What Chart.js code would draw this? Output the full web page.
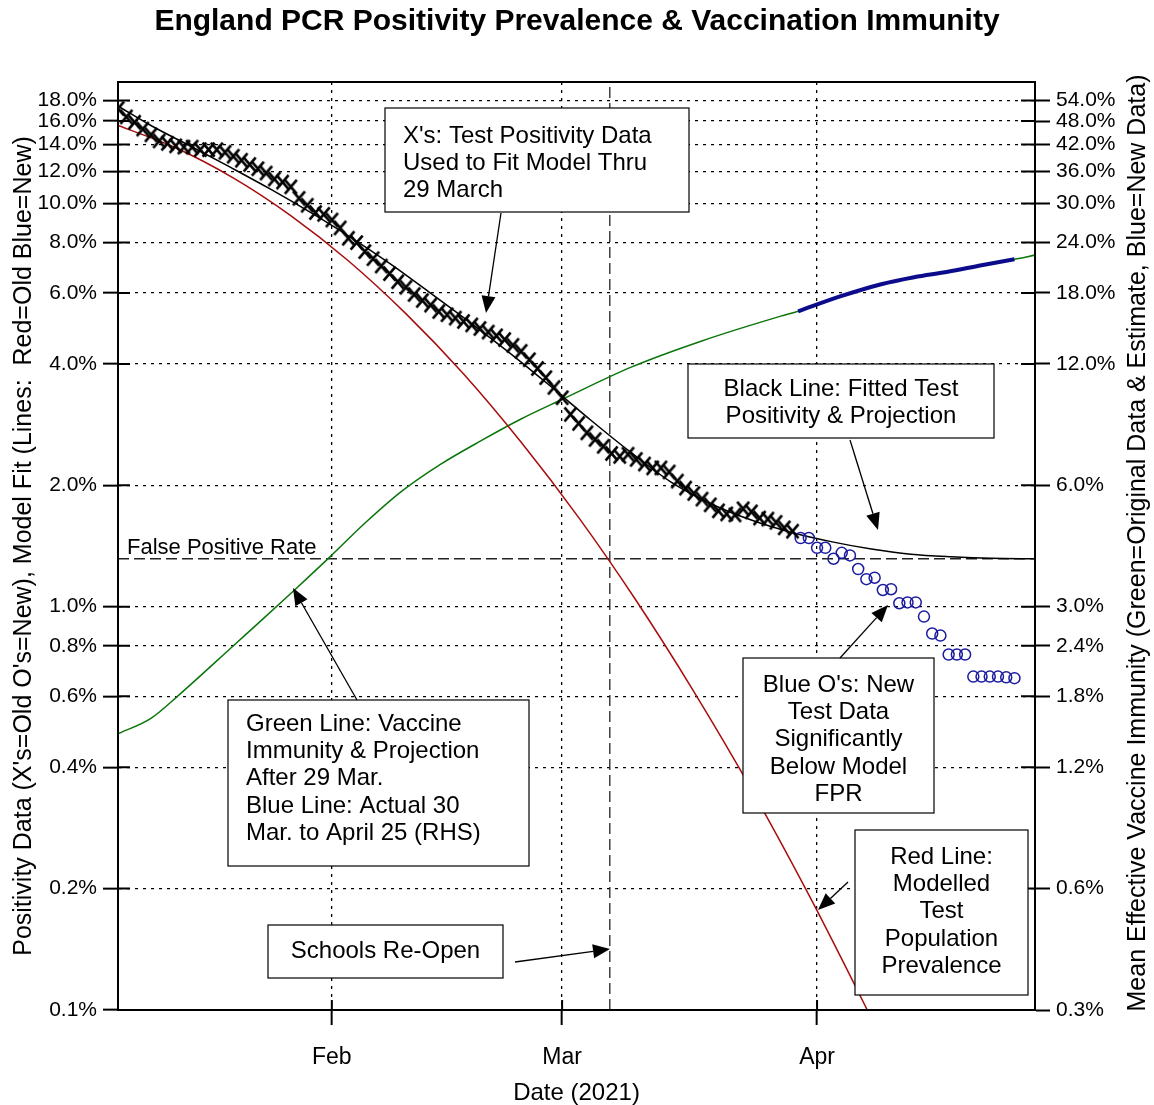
<!DOCTYPE html>
<html lang="en">
<head>
<meta charset="UTF-8">
<title>England PCR Positivity Prevalence &amp; Vaccination Immunity</title>
<script src="https://cdn.jsdelivr.net/npm/chart.js"></script>
<style>
  html, body { margin: 0; padding: 0; background: #fff; }
</style>
</head>
<body>
<canvas id="chart" width="1154" height="1105"></canvas>
<script>
// x values are days counted from 1 Jan 2021 (= day 0)
const dayMin = 5;
const dayMax = 116.5;
const monthDays = [31, 59, 90];
const monthLabels = ['Feb', 'Mar', 'Apr'];

// left axis (positivity) and right axis (immunity = 3x left)
const leftTicks = [0.1, 0.2, 0.4, 0.6, 0.8, 1, 2, 4, 6, 8, 10, 12, 14, 16, 18];
const rightTicks = [0.3, 0.6, 1.2, 1.8, 2.4, 3, 6, 12, 18, 24, 30, 36, 42, 48, 54];

// X's: daily test positivity used for the fit, 6 Jan - 29 Mar
const oldFirstDay = 5;
const oldPositivity = [
  17.2, 16.4, 15.9, 15.3, 14.8, 14.3, 14.1, 13.9, 13.8, 13.8,
  13.6, 13.6, 13.6, 13.4, 13.1, 12.8, 12.5, 12.2, 11.9, 11.5,
  11.3, 11.0, 10.3, 9.9, 9.5, 9.4, 9.1, 8.7, 8.2, 8.0,
  7.6, 7.3, 7.0, 6.7, 6.4, 6.2, 5.95, 5.75, 5.6, 5.4,
  5.3, 5.2, 5.1, 5.0, 4.9, 4.8, 4.7, 4.6, 4.45, 4.3,
  4.1, 3.9, 3.7, 3.5, 3.3, 3.0, 2.85, 2.7, 2.6, 2.5,
  2.4, 2.36, 2.39, 2.32, 2.26, 2.21, 2.21, 2.16, 2.05, 1.97,
  1.91, 1.85, 1.79, 1.73, 1.70, 1.69, 1.75, 1.72, 1.66, 1.65,
  1.62, 1.57, 1.54
];

// O's: new test data, 30 Mar - 25 Apr
const newFirstDay = 88;
const newPositivity = [
  1.48, 1.48, 1.40, 1.40, 1.315, 1.36, 1.34, 1.24, 1.17, 1.18,
  1.10, 1.105, 1.02, 1.025, 1.025, 0.945, 0.858, 0.848, 0.761, 0.761,
  0.761, 0.671, 0.671, 0.671, 0.671, 0.668, 0.665
];

// black: fitted test positivity & projection
const fitDays = [5.1, 9, 13.9, 18.7, 23.6, 28.4, 33.3, 38.2, 43, 47.9, 52.8, 57.6,
  62.5, 67.4, 72.2, 77.1, 82, 86.8, 91.7, 96.6, 101.4, 106.3, 111.2, 116.6];
const fitValues = [17.39, 15.6, 13.84, 12.28, 10.83, 9.5, 8.24, 7.06, 5.99, 5.05, 4.23, 3.52,
  2.9, 2.41, 2.04, 1.8, 1.64, 1.53, 1.45, 1.39, 1.35, 1.33, 1.318, 1.315];

// red: modelled test population prevalence
const redDays = [5, 12, 19, 26, 33, 40, 47, 54, 61, 68, 75, 82, 89, 96, 97];
const redValues = [15.6, 13.74, 11.57, 9.33, 7.21, 5.33, 3.78, 2.56, 1.665, 1.036, 0.617, 0.353, 0.193, 0.101, 0.0917];

// green: vaccine immunity & projection (right axis)
const greenDays = [5.1, 9, 12.6, 19.3, 22.4, 26.6, 30.9, 35.1, 39.4, 44.3, 49.1, 54, 59.1, 67.4,
  75.9, 85.6, 87.7, 92.9, 97.8, 101.8, 105.9, 110, 114, 116.6];
const greenValues = [1.455, 1.585, 1.827, 2.429, 2.77, 3.32, 4.01, 4.85, 5.78, 6.78, 7.73, 8.76, 9.82, 11.78,
  13.66, 15.76, 16.2, 17.66, 18.91, 19.68, 20.3, 21.07, 21.8, 22.35];

// blue: actual immunity 30 Mar - 25 Apr (right axis)
const blueDays = [87.7, 92.9, 97.8, 101.8, 105.9, 110, 114];
const blueValues = [16.2, 17.66, 18.91, 19.68, 20.3, 21.07, 21.8];

const fprValue = 1.315;
const schoolsDay = 64.8;

const FONT = "'Liberation Sans', Arial, sans-serif";
Chart.defaults.font.family = FONT;
Chart.defaults.color = '#000';

const pts = (xs, ys) => xs.map((x, i) => ({ x: x, y: ys[i] }));
const oldPts = oldPositivity.map((v, i) => ({ x: oldFirstDay + i, y: v }));
const newPts = newPositivity.map((v, i) => ({ x: newFirstDay + i, y: v }));

const lineDefaults = { pointRadius: 0, borderWidth: 1.5, cubicInterpolationMode: 'monotone', fill: false };

// X marker a bit taller than wide, like the glyph in the original
function makeX(w, h, lw) {
  const c = document.createElement('canvas');
  c.width = w + lw * 2;
  c.height = h + lw * 2;
  const g = c.getContext('2d');
  g.strokeStyle = '#000';
  g.lineWidth = lw;
  g.beginPath();
  g.moveTo(lw, lw); g.lineTo(lw + w, lw + h);
  g.moveTo(lw + w, lw); g.lineTo(lw, lw + h);
  g.stroke();
  return c;
}
const xMark = makeX(12, 14, 2.6);

// note boxes: [left, top, width, height, align, first line y, lines, arrow from x,y to x,y]
const notes = [
  [385, 108, 304, 104, 'left', 136, ["X's: Test Positivity Data", 'Used to Fit Model Thru', '29 March'], [501, 213, 486, 313]],
  [688, 364, 306, 74, 'center', 389, ['Black Line: Fitted Test', 'Positivity & Projection'], [850, 440, 878, 530]],
  [228, 700, 301, 166, 'left', 724, ['Green Line: Vaccine', 'Immunity & Projection', 'After 29 Mar.', 'Blue Line: Actual 30', 'Mar. to April 25 (RHS)'], [357, 700, 293, 588]],
  [743, 658, 191, 155, 'center', 685, ["Blue O's: New", 'Test Data', 'Significantly', 'Below Model', 'FPR'], [840, 658, 888, 605]],
  [855, 830, 173, 165, 'center', 857, ['Red Line:', 'Modelled', 'Test', 'Population', 'Prevalence'], [848, 882, 818, 910]],
  [268, 925, 235, 53, 'center', 951, ['Schools Re-Open'], [515, 962, 610, 949]]
];

function arrow(ctx, x1, y1, x2, y2) {
  const a = Math.atan2(y2 - y1, x2 - x1), len = 17, w = 7;
  ctx.beginPath();
  ctx.moveTo(x1, y1);
  ctx.lineTo(x2 - Math.cos(a) * len, y2 - Math.sin(a) * len);
  ctx.stroke();
  ctx.beginPath();
  ctx.moveTo(x2, y2);
  ctx.lineTo(x2 - len * Math.cos(a) + w * Math.sin(a), y2 - len * Math.sin(a) - w * Math.cos(a));
  ctx.lineTo(x2 - len * Math.cos(a) - w * Math.sin(a), y2 - len * Math.sin(a) + w * Math.cos(a));
  ctx.closePath();
  ctx.fill();
}

const extras = {
  id: 'extras',
  afterDraw(chart) {
    const ctx = chart.ctx;
    const a = chart.chartArea;
    ctx.save();
    ctx.strokeStyle = '#000';
    ctx.fillStyle = '#000';

    // frame
    ctx.lineWidth = 2;
    ctx.strokeRect(a.left, a.top, a.right - a.left, a.bottom - a.top);

    // inner halves of the tick marks
    ctx.beginPath();
    leftTicks.forEach(v => {
      const y = chart.scales.y.getPixelForValue(v);
      ctx.moveTo(a.left, y); ctx.lineTo(a.left + 12, y);
    });
    rightTicks.forEach(v => {
      const y = chart.scales.y2.getPixelForValue(v);
      ctx.moveTo(a.right, y); ctx.lineTo(a.right - 14, y);
    });
    monthDays.forEach(d => {
      const x = chart.scales.x.getPixelForValue(d);
      ctx.moveTo(x, a.bottom); ctx.lineTo(x, a.bottom - 10);
    });
    ctx.stroke();

    // main title
    ctx.font = 'bold 30px ' + FONT;
    ctx.textAlign = 'center';
    ctx.textBaseline = 'middle';
    ctx.fillText('England PCR Positivity Prevalence & Vaccination Immunity', 577, 22);

    // right axis title, reading upward
    ctx.save();
    ctx.translate(1138, (a.top + a.bottom) / 2 - 3);
    ctx.rotate(-Math.PI / 2);
    ctx.font = '25px ' + FONT;
    ctx.fillText('Mean Effective Vaccine Immunity (Green=Original Data & Estimate, Blue=New Data)', 0, 0);
    ctx.restore();

    // false positive rate label
    ctx.font = '22px ' + FONT;
    ctx.textAlign = 'left';
    ctx.textBaseline = 'alphabetic';
    ctx.fillText('False Positive Rate', 127, chart.scales.y.getPixelForValue(fprValue) - 5);

    // note boxes and arrows
    ctx.font = '24px ' + FONT;
    ctx.textBaseline = 'middle';
    notes.forEach(([x, y, w, h, align, ty, lines, ar]) => {
      ctx.fillStyle = '#fff';
      ctx.fillRect(x, y, w, h);
      ctx.lineWidth = 1.2;
      ctx.strokeRect(x, y, w, h);
      ctx.fillStyle = '#000';
      ctx.textAlign = align;
      const tx = align === 'left' ? x + 18 : x + w / 2;
      lines.forEach((t, i) => ctx.fillText(t, tx, ty + i * 27.4));
      ctx.lineWidth = 1.3;
      arrow(ctx, ar[0], ar[1], ar[2], ar[3]);
    });
    ctx.restore();
  }
};

new Chart(document.getElementById('chart'), {
  type: 'line',
  data: {
    datasets: [
      { data: oldPts, showLine: false, pointStyle: xMark, pointRadius: 7,
        borderColor: '#000', backgroundColor: '#000' },
      { data: newPts, showLine: false, pointStyle: 'circle', pointRadius: 5.5, pointBorderWidth: 1.5,
        borderColor: '#1c1ca0', backgroundColor: 'rgba(0,0,0,0)' },
      { ...lineDefaults, data: pts(blueDays, blueValues), yAxisID: 'y2', borderColor: '#0b0b8c', borderWidth: 4 },
      { ...lineDefaults, data: pts(fitDays, fitValues), borderColor: '#000' },
      { ...lineDefaults, data: pts(redDays, redValues), borderColor: '#a80c0c' },
      { ...lineDefaults, data: pts(greenDays, greenValues), yAxisID: 'y2', borderColor: '#0a760a' },
      { ...lineDefaults, data: pts([dayMin, dayMax], [fprValue, fprValue]), borderColor: '#222',
        borderWidth: 1.3, borderDash: [11, 5], cubicInterpolationMode: 'default' },
      { ...lineDefaults, data: pts([schoolsDay, schoolsDay], [0.1, 20]), borderColor: '#222',
        borderWidth: 1.3, borderDash: [11, 5], cubicInterpolationMode: 'default' }
    ]
  },
  options: {
    responsive: false,
    animation: false,
    devicePixelRatio: 1,
    layout: { padding: { top: 82, left: 0, right: 0, bottom: 0 } },
    plugins: { legend: { display: false }, tooltip: { enabled: false }, title: { display: false } },
    scales: {
      x: {
        type: 'linear',
        min: dayMin,
        max: dayMax,
        afterBuildTicks: s => { s.ticks = monthDays.map(v => ({ value: v })); },
        afterFit: s => { s.height = 95; },
        ticks: {
          autoSkip: false,
          maxRotation: 0,
          padding: 19,
          font: { size: 23 },
          callback: v => monthLabels[monthDays.indexOf(v)]
        },
        grid: { color: '#000', lineWidth: 1.3, tickLength: 15, tickWidth: 2 },
        border: { color: '#000', width: 2, dash: [3, 5] },
        title: { display: true, text: 'Date (2021)', font: { size: 24, lineHeight: 1 }, padding: { top: 0, bottom: 0 } }
      },
      y: {
        type: 'logarithmic',
        position: 'left',
        min: 0.1,
        max: 20,
        afterBuildTicks: s => { s.ticks = leftTicks.map(v => ({ value: v })); },
        afterFit: s => { s.width = 118; },
        ticks: {
          autoSkip: false,
          padding: 6,
          font: { size: 21 },
          callback: v => v.toFixed(1) + '%'
        },
        grid: { color: '#000', lineWidth: 1.3, tickLength: 15, tickWidth: 2 },
        border: { color: '#000', width: 2, dash: [3, 5] },
        title: {
          display: true,
          text: "Positivity Data (X's=Old O's=New), Model Fit (Lines:  Red=Old Blue=New)",
          font: { size: 25, lineHeight: 1 },
          padding: { top: 12, bottom: 0 }
        }
      },
      y2: {
        type: 'logarithmic',
        position: 'right',
        min: 0.3,
        max: 60,
        afterBuildTicks: s => { s.ticks = rightTicks.map(v => ({ value: v })); },
        afterFit: s => { s.width = 119; },
        ticks: {
          autoSkip: false,
          padding: 6,
          font: { size: 21 },
          callback: v => v.toFixed(1) + '%'
        },
        grid: { drawOnChartArea: false, color: '#000', tickLength: 15, tickWidth: 2 },
        border: { color: '#000', width: 2 }
      }
    }
  },
  plugins: [extras]
});
</script>
</body>
</html>
